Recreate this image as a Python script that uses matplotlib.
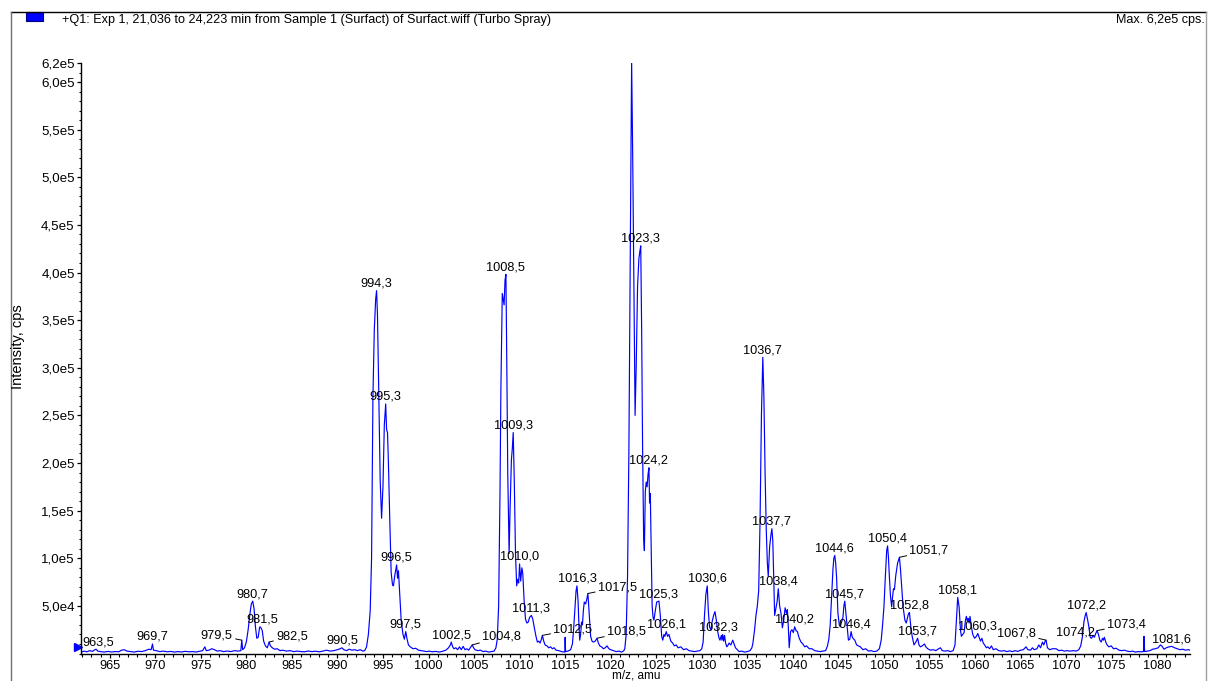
import numpy as np
import matplotlib
matplotlib.use("Agg")
import matplotlib.pyplot as plt
from matplotlib.ticker import MultipleLocator, FixedLocator, FuncFormatter
from matplotlib.lines import Line2D
from matplotlib.patches import Rectangle
import matplotlib.transforms as mtransforms

plt.rcParams['font.family'] = ['Liberation Sans', 'DejaVu Sans']

# Profile trace, pairs of (m/z in amu, intensity in kcps), one list per region
trace_962 = [
    (961.9, 1.5), (962.2, 2.5), (962.5, 1.8), (962.8, 3.0), (963.1, 2.2), (963.3, 3.5),
    (963.5, 4.5), (963.7, 2.5), (964.0, 2.0), (964.4, 1.5), (964.8, 2.2), (965.2, 1.6),
    (965.6, 2.0), (966.0, 1.8), (966.3, 3.5), (966.6, 4.0), (966.9, 2.5), (967.3, 2.0),
    (967.7, 1.5), (968.1, 2.4), (968.5, 2.0), (968.9, 3.0), (969.3, 4.5), (969.55, 4.0),
    (969.7, 10.0), (969.8, 3.5), (970.1, 3.0), (970.5, 2.0), (970.9, 2.5), (971.3, 1.8),
    (971.7, 2.2), (972.1, 1.5), (972.5, 2.0), (972.9, 1.6), (973.3, 2.3), (973.7, 1.8),
    (974.1, 2.0), (974.5, 1.6), (974.9, 2.4), (975.2, 3.0), (975.45, 7.0), (975.6, 3.0),
    (975.9, 3.5), (976.2, 5.0), (976.5, 4.0), (976.8, 2.5), (977.1, 3.0), (977.5, 2.0),
    (977.9, 2.6), (978.3, 2.0), (978.7, 3.0), (979.1, 2.5), (979.4, 3.0), (979.5, 14.0),
    (979.6, 4.0),
]
trace_980 = [
    (979.8, 6), (980.0, 12), (980.2, 25), (980.4, 42), (980.55, 52), (980.7, 55),
    (980.85, 47), (981.0, 28), (981.15, 16), (981.3, 17), (981.45, 27), (981.5, 28),
    (981.6, 27), (981.75, 24), (981.9, 13), (982.1, 8), (982.3, 6), (982.5, 12),
    (982.65, 8), (982.85, 6), (983.1, 4.5), (983.4, 5), (983.7, 3), (984.0, 3.5),
    (984.4, 2.5), (984.8, 3), (985.2, 2), (985.6, 2.5), (986.0, 2), (986.4, 1.8),
    (986.8, 2.6), (987.2, 2), (987.6, 2.4), (988.0, 1.8), (988.4, 2.5), (988.8, 3.5),
    (989.2, 2.5), (989.6, 3), (990.0, 4), (990.3, 5), (990.5, 6), (990.7, 4),
    (991.0, 3), (991.3, 4.5), (991.6, 3.5), (991.9, 4), (992.2, 3), (992.5, 4),
    (992.8, 2.5),
]
trace_994 = [
    (993.0, 3), (993.2, 7), (993.4, 20), (993.6, 45), (993.75, 100), (993.9, 270),
    (994.05, 340), (994.2, 372), (994.3, 381), (994.4, 355), (994.55, 270), (994.7, 180),
    (994.85, 142), (995.0, 175), (995.15, 240), (995.3, 262), (995.4, 235), (995.5, 232),
    (995.6, 200), (995.75, 140), (995.9, 85), (996.05, 72), (996.15, 71), (996.3, 82),
    (996.5, 93), (996.6, 79), (996.7, 87), (996.85, 60), (997.0, 35), (997.2, 20),
    (997.35, 15), (997.5, 23), (997.65, 15), (997.8, 9), (998.0, 7), (998.3, 5),
    (998.6, 5.5), (998.9, 3.5), (999.2, 3), (999.5, 2.5),
]
trace_1000 = [
    (999.8, 2), (1000.1, 2.5), (1000.4, 1.8), (1000.8, 2.2), (1001.2, 1.5), (1001.6, 2.5),
    (1001.9, 3.5), (1002.2, 6), (1002.4, 9), (1002.5, 12), (1002.65, 7), (1002.8, 5),
    (1003.0, 6), (1003.2, 4), (1003.4, 7), (1003.6, 4), (1003.8, 7.5), (1004.0, 4),
    (1004.2, 5), (1004.4, 3.5), (1004.65, 7), (1004.8, 9), (1004.95, 6), (1005.1, 4),
    (1005.4, 3), (1005.7, 3.5), (1006.0, 2), (1006.3, 2.5), (1006.6, 1.5), (1006.9, 2),
    (1007.2, 2.5), (1007.4, 6),
]
trace_1008 = [
    (1007.55, 15), (1007.7, 50), (1007.85, 170), (1007.95, 280), (1008.1, 378), (1008.2, 372),
    (1008.3, 366), (1008.4, 392), (1008.5, 398), (1008.6, 300), (1008.7, 190), (1008.85, 105),
    (1008.95, 150), (1009.1, 203), (1009.2, 215), (1009.3, 232), (1009.42, 180), (1009.55, 105),
    (1009.68, 71), (1009.8, 78), (1009.9, 74), (1010.0, 94), (1010.12, 76), (1010.25, 90),
    (1010.35, 84), (1010.5, 55), (1010.65, 36), (1010.8, 32), (1010.95, 33), (1011.1, 38),
    (1011.3, 40), (1011.45, 36), (1011.6, 28), (1011.8, 18), (1011.95, 12), (1012.1, 13),
    (1012.25, 11), (1012.4, 15), (1012.5, 19), (1012.65, 13), (1012.8, 9), (1013.0, 8),
    (1013.2, 6), (1013.4, 7), (1013.6, 5), (1013.8, 6), (1014.0, 3.5), (1014.3, 3),
    (1014.6, 2), (1014.97, 1.5), (1015.0, 17), (1015.05, 2),
]
trace_1016 = [
    (1015.3, 2.5), (1015.6, 4), (1015.8, 10), (1015.95, 28), (1016.1, 50), (1016.2, 66),
    (1016.3, 71), (1016.42, 55), (1016.52, 28), (1016.6, 14), (1016.7, 20), (1016.8, 33),
    (1016.9, 30), (1017.0, 45), (1017.1, 54), (1017.25, 52), (1017.4, 58), (1017.5, 63),
    (1017.6, 48), (1017.7, 33), (1017.8, 18), (1017.95, 13), (1018.1, 12), (1018.3, 13),
    (1018.5, 16), (1018.65, 11), (1018.8, 8), (1019.0, 7), (1019.2, 5), (1019.4, 6),
    (1019.6, 8), (1019.8, 5), (1020.0, 4), (1020.3, 3), (1020.6, 2), (1020.9, 2.5),
    (1021.2, 1.5), (1021.45, 3),
]
trace_1022 = [
    (1021.55, 5), (1021.7, 20), (1021.85, 80), (1022.0, 213), (1022.15, 420), (1022.3, 622),
    (1022.42, 520), (1022.55, 380), (1022.68, 250), (1022.8, 300), (1022.95, 385), (1023.1, 415),
    (1023.2, 422), (1023.3, 428), (1023.4, 340), (1023.5, 220), (1023.62, 120), (1023.7, 108),
    (1023.8, 170), (1023.9, 180), (1024.0, 175), (1024.1, 188), (1024.2, 195), (1024.27, 158),
    (1024.35, 168), (1024.45, 110), (1024.55, 50), (1024.65, 38), (1024.75, 35), (1024.9, 45),
    (1025.05, 54), (1025.3, 55), (1025.45, 40), (1025.6, 18), (1025.72, 14), (1025.85, 20),
    (1025.95, 18), (1026.1, 23), (1026.25, 18), (1026.4, 20), (1026.6, 13), (1026.8, 11),
    (1027.0, 8), (1027.2, 9), (1027.4, 6), (1027.7, 7), (1028.0, 4), (1028.3, 5),
    (1028.6, 3), (1028.9, 2.5), (1029.2, 2), (1029.5, 2.5), (1029.8, 3),
]
trace_1030 = [
    (1030.0, 5), (1030.15, 12), (1030.3, 40), (1030.45, 62), (1030.6, 71), (1030.72, 45),
    (1030.85, 28), (1031.0, 25), (1031.15, 34), (1031.3, 40), (1031.45, 44), (1031.6, 35),
    (1031.75, 23), (1031.9, 16), (1032.0, 14), (1032.15, 19), (1032.22, 14), (1032.3, 20),
    (1032.4, 13), (1032.5, 19), (1032.62, 11), (1032.75, 7), (1032.9, 9), (1033.0, 11),
    (1033.2, 9), (1033.4, 14), (1033.55, 10), (1033.7, 6), (1033.9, 4), (1034.1, 2),
    (1034.4, 2.5), (1034.7, 1.5), (1035.0, 2), (1035.3, 3), (1035.5, 6),
]
trace_1036 = [
    (1035.6, 10), (1035.8, 25), (1035.95, 40), (1036.1, 50), (1036.25, 66), (1036.4, 140),
    (1036.55, 250), (1036.7, 311), (1036.82, 270), (1036.95, 190), (1037.08, 130), (1037.2, 95),
    (1037.3, 81), (1037.45, 112), (1037.6, 125), (1037.7, 131), (1037.8, 118), (1037.92, 70),
    (1038.0, 40), (1038.15, 48), (1038.28, 55), (1038.4, 68), (1038.55, 50), (1038.7, 42),
    (1038.85, 27), (1039.0, 35), (1039.15, 48), (1039.3, 42), (1039.4, 46), (1039.5, 28),
    (1039.6, 6), (1039.75, 23), (1039.9, 25), (1040.05, 22), (1040.2, 28), (1040.35, 24),
    (1040.5, 23), (1040.7, 16), (1040.9, 12), (1041.1, 10), (1041.3, 7), (1041.5, 8),
    (1041.8, 5), (1042.1, 5), (1042.4, 3), (1042.7, 2.5), (1043.0, 2), (1043.3, 2.5),
    (1043.6, 3), (1043.8, 8),
]
trace_1044 = [
    (1043.95, 15), (1044.1, 30), (1044.25, 60), (1044.4, 88), (1044.5, 100), (1044.6, 103),
    (1044.7, 95), (1044.8, 80), (1044.95, 42), (1045.1, 30), (1045.2, 28), (1045.35, 33),
    (1045.5, 38), (1045.6, 50), (1045.7, 55), (1045.8, 45), (1045.95, 30), (1046.1, 14),
    (1046.25, 15), (1046.4, 23), (1046.5, 18), (1046.6, 16), (1046.8, 14), (1047.0, 9),
    (1047.2, 8), (1047.4, 7), (1047.7, 4), (1048.0, 5), (1048.3, 2.5), (1048.6, 3),
    (1048.9, 2), (1049.2, 2.5), (1049.5, 5),
]
trace_1050 = [
    (1049.7, 14), (1049.85, 30), (1050.0, 49), (1050.15, 80), (1050.3, 108), (1050.4, 113),
    (1050.5, 100), (1050.6, 80), (1050.72, 60), (1050.85, 49), (1050.95, 60), (1051.05, 68),
    (1051.15, 67), (1051.3, 82), (1051.5, 95), (1051.7, 101), (1051.82, 88), (1051.95, 70),
    (1052.1, 49), (1052.3, 35), (1052.45, 32), (1052.6, 38), (1052.7, 42), (1052.8, 43),
    (1052.95, 28), (1053.1, 18), (1053.3, 9), (1053.5, 12), (1053.7, 16), (1053.85, 9),
    (1054.0, 7), (1054.2, 8), (1054.45, 10), (1054.6, 7), (1054.8, 5), (1055.1, 3.5),
    (1055.4, 4), (1055.7, 3), (1056.0, 5), (1056.2, 6), (1056.4, 3), (1056.7, 2.5),
    (1057.0, 3), (1057.3, 2), (1057.6, 3),
]
trace_1058 = [
    (1057.8, 9), (1057.95, 35), (1058.1, 59), (1058.25, 49), (1058.4, 25), (1058.5, 18),
    (1058.65, 20), (1058.8, 22), (1058.95, 35), (1059.05, 39), (1059.15, 34), (1059.25, 37),
    (1059.35, 32), (1059.45, 39), (1059.6, 28), (1059.75, 20), (1059.95, 16), (1060.15, 18),
    (1060.3, 21), (1060.45, 17), (1060.6, 13), (1060.75, 16), (1060.9, 11), (1061.05, 9),
    (1061.25, 6), (1061.4, 7), (1061.6, 5), (1061.8, 8), (1062.0, 4), (1062.3, 5),
    (1062.6, 3),
]
trace_1063 = [
    (1062.9, 2.5), (1063.2, 3), (1063.5, 2), (1063.8, 2.8), (1064.1, 2), (1064.4, 3),
    (1064.7, 2.2), (1065.0, 3.5), (1065.3, 4), (1065.6, 7), (1065.8, 4), (1066.1, 3.5),
    (1066.3, 6), (1066.5, 4), (1066.8, 5), (1067.0, 9), (1067.2, 6), (1067.4, 12),
    (1067.55, 9), (1067.7, 13), (1067.8, 14), (1067.95, 6), (1068.2, 4), (1068.5, 5),
    (1068.9, 5), (1069.2, 3), (1069.5, 3.5), (1069.8, 2.5), (1070.1, 3), (1070.4, 2.5),
    (1070.8, 3), (1071.1, 2.5), (1071.4, 4), (1071.6, 8), (1071.8, 18), (1071.95, 33),
    (1072.1, 40), (1072.2, 43), (1072.35, 36), (1072.5, 28), (1072.65, 17), (1072.8, 16),
    (1072.95, 19), (1073.1, 17), (1073.25, 21), (1073.4, 24), (1073.55, 20), (1073.7, 14),
    (1073.85, 12), (1074.0, 16), (1074.1, 14), (1074.2, 17), (1074.35, 12), (1074.5, 9),
    (1074.7, 7), (1074.95, 8), (1075.2, 5), (1075.5, 5.5), (1075.8, 3.5), (1076.1, 3),
    (1076.4, 3.5), (1076.7, 2.5), (1077.0, 2), (1077.3, 2.5), (1077.6, 1.5), (1077.9, 2),
    (1078.2, 1.8), (1078.5, 2), (1078.55, 18), (1078.62, 2), (1078.9, 2.5), (1079.2, 3),
    (1079.5, 4.5), (1079.8, 5), (1080.1, 6), (1080.35, 9), (1080.5, 8), (1080.75, 4.5),
    (1081.0, 6), (1081.3, 7), (1081.6, 7.5), (1081.9, 6), (1082.2, 5), (1082.5, 4),
    (1082.8, 4.5), (1083.1, 3.5), (1083.4, 4), (1083.6, 3.5),
]

# Annotated peak centroids (m/z)
peak_labels = [963.5, 969.7, 979.5, 980.7, 981.5, 982.5, 990.5, 994.3, 995.3, 996.5,
               997.5, 1002.5, 1004.8, 1008.5, 1009.3, 1010.0, 1011.3, 1012.5, 1016.3,
               1017.5, 1018.5, 1022.3, 1023.3, 1024.2, 1025.3, 1026.1, 1030.6, 1032.3,
               1036.7, 1037.7, 1038.4, 1040.2, 1044.6, 1045.7, 1046.4, 1050.4, 1051.7,
               1052.8, 1053.7, 1058.1, 1060.3, 1067.8, 1072.2, 1073.4, 1074.2, 1081.6]

y_major = [5e4, 1e5, 1.5e5, 2e5, 2.5e5, 3e5, 3.5e5, 4e5, 4.5e5, 5e5, 5.5e5, 6e5, 6.2e5]

header = "+Q1: Exp 1, 21,036 to 24,223 min from Sample 1 (Surfact) of Surfact.wiff (Turbo Spray)"
max_text = "Max. 6,2e5 cps."

segments = [trace_962, trace_980, trace_994, trace_1000, trace_1008, trace_1016, trace_1022,
            trace_1030, trace_1036, trace_1044, trace_1050, trace_1058, trace_1063]
pairs = np.array([p for seg in segments for p in seg])
mz = pairs[:, 0]
cps = pairs[:, 1] * 1e3

W, H = 1208, 681
fig = plt.figure(figsize=(W / 100, H / 100), dpi=100)
fig.patch.set_facecolor('white')

ax_l, ax_r, ax_t, ax_b = 81, 1190, 63, 653.5
ax = fig.add_axes([ax_l / W, 1 - ax_b / H, (ax_r - ax_l) / W, (ax_b - ax_t) / H])
ax.set_xlim(961.85, 1083.6)
ax.set_ylim(0, 6.2e5)
for s in ('top', 'right'):
    ax.spines[s].set_visible(False)
for s in ('left', 'bottom'):
    ax.spines[s].set_linewidth(1.0)
    ax.spines[s].set_color('black')

ax.plot(mz, cps, color='#0000ff', lw=0.85, solid_joinstyle='round')

# axis ticks
ax.xaxis.set_major_locator(MultipleLocator(5))
ax.xaxis.set_minor_locator(MultipleLocator(1))
ax.yaxis.set_major_locator(FixedLocator(y_major))
ax.yaxis.set_minor_locator(MultipleLocator(1e4))


def sci_comma(v, pos):
    e = int(np.floor(np.log10(v)))
    m = v / 10 ** e
    return f"{m:.1f}e{e}".replace('.', ',')


ax.yaxis.set_major_formatter(FuncFormatter(sci_comma))
ax.xaxis.set_major_formatter(FuncFormatter(lambda v, p: f"{v:.0f}"))
ax.tick_params(axis='both', which='major', direction='out', length=3, width=0.9,
               color='black', labelcolor='black')
ax.tick_params(axis='y', which='major', labelsize=9.6, pad=1.5)
ax.tick_params(axis='x', which='major', labelsize=9.2, pad=2.0)
ax.tick_params(axis='both', which='minor', direction='out', length=1.8, width=0.8, color='black')

# peak annotations; some labels are shifted aside with a leader line
lab_fs = 9.2
leaders = {
    979.5: (-9, 5, 'right'),
    982.5: (7, 6, 'left'),
    1004.8: (10, 8, 'left'),
    1012.5: (11, 6, 'left'),
    1017.5: (10, 6, 'left'),
    1018.5: (10, 6.5, 'left'),
    1051.7: (10, 6.5, 'left'),
    1067.8: (-10, 7, 'right'),
    1073.4: (10, 6, 'left'),
}
shifted = {1074.2: (-9, 5, 'right')}
nudge = {963.5: 2, 981.5: 2, 1032.3: -4}

for m in peak_labels:
    i = int(np.argmin(np.abs(mz - m)))
    y = cps[i]
    txt = f"{m:.1f}".replace('.', ',')
    if m in leaders:
        dx, dy, ha = leaders[m]
        ax.annotate(txt, xy=(m, y), xytext=(dx, dy), textcoords='offset pixels',
                    ha=ha, va='center', fontsize=lab_fs,
                    arrowprops=dict(arrowstyle='-', color='black', lw=0.7,
                                    shrinkA=0, shrinkB=0))
    elif m in shifted:
        dx, dy, ha = shifted[m]
        ax.annotate(txt, xy=(m, y), xytext=(dx, dy), textcoords='offset pixels',
                    ha=ha, va='center', fontsize=lab_fs)
    else:
        ax.annotate(txt, xy=(m, y), xytext=(nudge.get(m, 0), 1.0), textcoords='offset pixels',
                    ha='center', va='bottom', fontsize=lab_fs)

# threshold marker on the intensity axis
trans = mtransforms.blended_transform_factory(ax.transAxes, ax.transData)
ax.plot([-3 / (ax_r - ax_l)], [6.8e3], marker='>', ms=6, color='#0000ff',
        transform=trans, clip_on=False)

# axis titles
fig.text(18 / W, 1 - 347 / H, "Intensity, cps", rotation=90, ha='center', va='center', fontsize=10.5)
fig.text(636 / W, 1 - 676 / H, "m/z, amu", ha='center', va='center', fontsize=8.5)

# outer frame, legend swatch and header
fig.add_artist(Line2D([11 / W, 1206 / W], [1 - 12 / H, 1 - 12 / H], color='black', lw=1.0))
fig.add_artist(Line2D([11 / W, 11 / W], [1 - 12 / H, 0], color='#707070', lw=1.0))
fig.add_artist(Line2D([1206 / W, 1206 / W], [1 - 12 / H, 0], color='#a0a0a0', lw=1.0))
fig.add_artist(Rectangle((26 / W, 1 - 21 / H), 17 / W, 9 / H, transform=fig.transFigure,
                         facecolor='#0000ff', edgecolor='#000080', lw=0.8))
fig.text(62 / W, 1 - 20.5 / H, header, ha='left', va='center', fontsize=9.1)
fig.text(1205 / W, 1 - 20.5 / H, max_text, ha='right', va='center', fontsize=9.1)

fig.savefig('out.png', dpi=100, facecolor='white')
